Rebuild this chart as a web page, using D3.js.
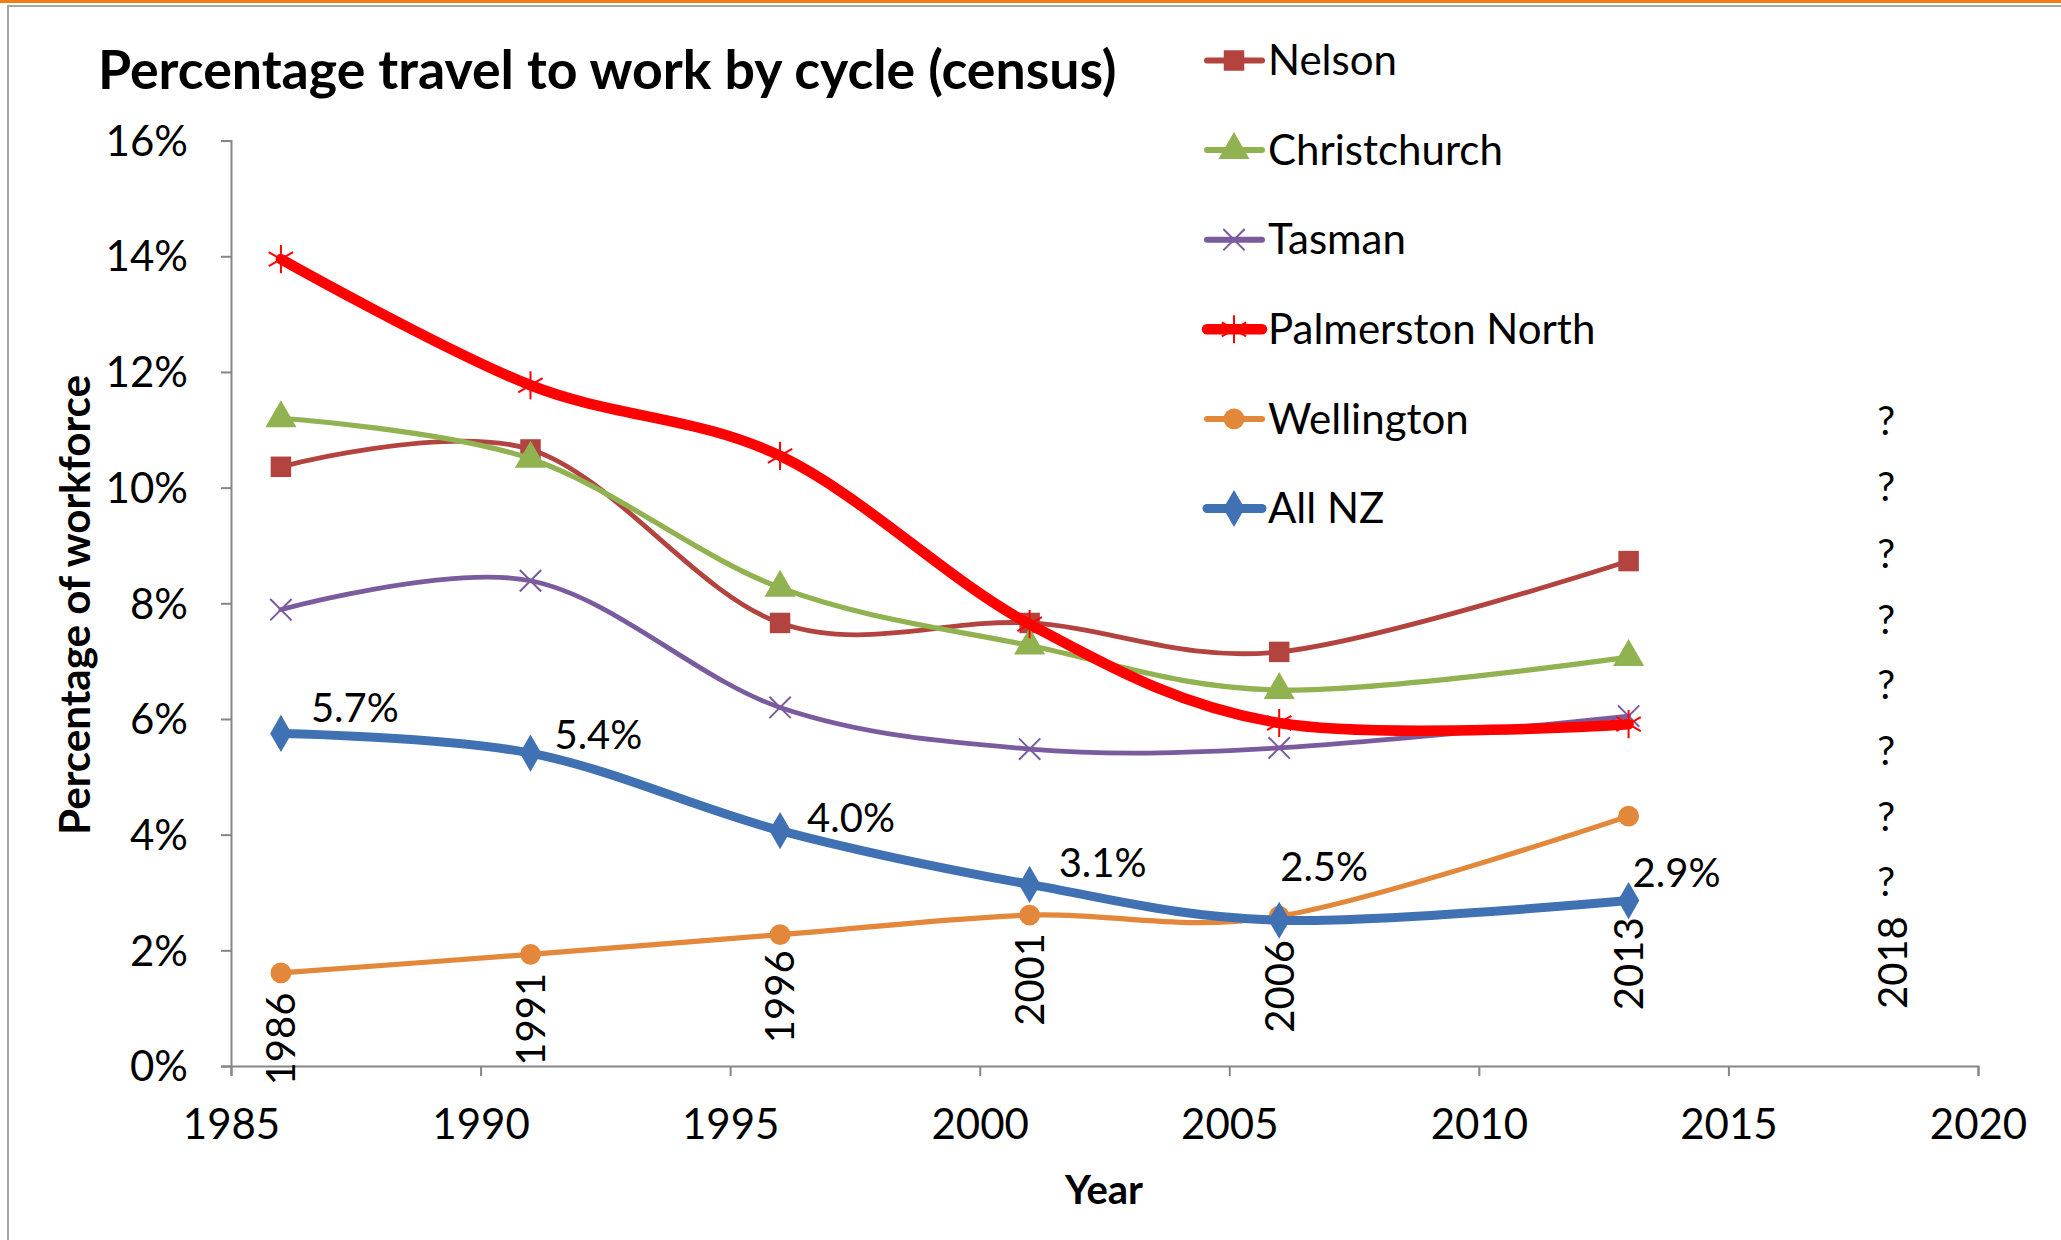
<!DOCTYPE html>
<html>
<head>
<meta charset="utf-8">
<script src="https://cdn.jsdelivr.net/npm/d3@7"></script>
<style>
  html, body { margin: 0; padding: 0; background: #fff; }
  svg text { font-family: Lato, "Open Sans", sans-serif; fill: #000; }
</style>
</head>
<body>
<div id="chart"></div>
<script>
// Data
const years = [1986, 1991, 1996, 2001, 2006, 2013];
const nelson = [10.36, 10.66, 7.66, 7.66, 7.16, 8.73];
const christchurch = [11.2, 10.5, 8.27, 7.27, 6.5, 7.07];
const tasman = [7.89, 8.39, 6.2, 5.48, 5.5, 6.05];
const palmerstonNorth = [13.95, 11.77, 10.55, 7.64, 5.93, 5.91];
const wellington = [1.61, 1.93, 2.27, 2.61, 2.59, 4.32];
const allNZ = [5.75, 5.41, 4.07, 3.14, 2.52, 2.86];
const allNZLabels = ['5.7%', '5.4%', '4.0%', '3.1%', '2.5%', '2.9%'];

// hidden series carrying the census year labels and the "?" marks
const censusYears = [1986, 1991, 1996, 2001, 2006, 2013, 2018];
const censusYearAt = [1.27, 1.61, 2.0, 2.3, 2.18, 2.57, 2.59];
const unknownAt = [11.15, 10.01, 8.85, 7.71, 6.59, 5.45, 4.31, 3.18];

const xTicks = [1985, 1990, 1995, 2000, 2005, 2010, 2015, 2020];
const yTicks = [0, 2, 4, 6, 8, 10, 12, 14, 16];

const seriesNames = ['Nelson', 'Christchurch', 'Tasman', 'Palmerston North', 'Wellington', 'All NZ'];

let width = 2061;
let height = 1240;

let series = [
    {name: 'Nelson', values: nelson, color: '#b2433f', lw: 4.8, marker: 'square'},
    {name: 'Christchurch', values: christchurch, color: '#90b250', lw: 5.2, marker: 'triangle'},
    {name: 'Tasman', values: tasman, color: '#7a5c9e', lw: 4.8, marker: 'times'},
    {name: 'Palmerston North', values: palmerstonNorth, color: '#ff0000', lw: 10.5, marker: 'asterisk'},
    {name: 'Wellington', values: wellington, color: '#e3883b', lw: 5.2, marker: 'circle'},
    {name: 'All NZ', values: allNZ, color: '#3f71b3', lw: 9, marker: 'diamond'}
];

// label nudges for the All NZ values (px: dx from point, dy baseline from point)
const labelNudge = [[30, -11], [24, -4], [27, 1], [29, -7], [1, -39], [4, -14]];

let svg = d3.select('#chart').append('svg')
    .attr('width', width)
    .attr('height', height);

// frame
svg.append('rect').attr('x', 0).attr('y', 0).attr('width', width).attr('height', 3).attr('fill', '#f07d16');
svg.append('path').attr('d', 'M8,' + height + 'V6H' + width).attr('fill', 'none').attr('stroke', '#a6a6a6').attr('stroke-width', 2);

const x = d3.scaleLinear().domain([1985, 2020]).range([231, 1978]);
const y = d3.scaleLinear().domain([0, 16]).range([1066, 140.6]);

// axes
let yAxis = svg.append('g')
    .attr('transform', 'translate(231,0)')
    .call(d3.axisLeft(y).tickValues(yTicks).tickFormat(d => d + '%').tickSize(10).tickPadding(33));
let xAxis = svg.append('g')
    .attr('transform', 'translate(0,1066)')
    .call(d3.axisBottom(x).tickValues(xTicks).tickFormat(d3.format('d')).tickSize(10));

[yAxis, xAxis].forEach(function(ax) {
    ax.select('.domain').attr('stroke', '#868686').attr('stroke-width', 2);
    ax.selectAll('.tick line').attr('stroke', '#868686').attr('stroke-width', 2);
    ax.selectAll('.tick text').style('font-size', '42px').attr('fill', '#000');
});
xAxis.selectAll('.tick text').attr('y', 58).attr('dy', '0.35em');
yAxis.selectAll('.tick text').attr('dy', '0.35em');

// lines
const line = d3.line()
    .x((d, i) => x(years[i]))
    .y(d => y(d))
    .curve(d3.curveCatmullRom.alpha(0));

function symbolFor(m) {
    if (m == 'square') return d3.symbol().type(d3.symbolSquare).size(420);
    if (m == 'triangle') return d3.symbol().type(d3.symbolTriangle).size(420);
    if (m == 'times') return d3.symbol().type(d3.symbolTimes).size(300);
    if (m == 'asterisk') return d3.symbol().type(d3.symbolAsterisk).size(560);
    if (m == 'circle') return d3.symbol().type(d3.symbolCircle).size(340);
    return d3.symbol().type(d3.symbolDiamond).size(400);
}
function isStroked(m) {
    return m == 'times' || m == 'asterisk';
}

series.forEach(function(s) {
    let g = svg.append('g');
    g.append('path')
        .attr('d', line(s.values))
        .attr('fill', 'none')
        .attr('stroke', s.color)
        .attr('stroke-width', s.lw)
        .attr('stroke-linejoin', 'round')
        .attr('stroke-linecap', 'round');
    g.selectAll('path.mk')
        .data(s.values)
        .enter()
        .append('path')
        .attr('class', 'mk')
        .attr('transform', (d, i) => 'translate(' + x(years[i]) + ',' + y(d) + ')')
        .attr('d', symbolFor(s.marker))
        .attr('fill', isStroked(s.marker) ? 'none' : s.color)
        .attr('stroke', isStroked(s.marker) ? s.color : 'none')
        .attr('stroke-width', 2);
});

// All NZ data labels
svg.append('g')
    .selectAll('text')
    .data(allNZ)
    .enter()
    .append('text')
    .attr('x', (d, i) => x(years[i]) + labelNudge[i][0])
    .attr('y', (d, i) => y(d) + labelNudge[i][1])
    .style('font-size', '40px')
    .text((d, i) => allNZLabels[i]);

// census year labels, rotated
svg.append('g')
    .selectAll('text')
    .data(censusYears)
    .enter()
    .append('text')
    .attr('transform', (d, i) => 'translate(' + (x(d) + (d == 2018 ? 14 : 0)) + ',' + y(censusYearAt[i]) + ') rotate(-90)')
    .attr('text-anchor', 'end')
    .attr('dy', '0.36em')
    .style('font-size', '40px')
    .text(d => d);

// question marks for 2018
svg.append('g')
    .selectAll('text')
    .data(unknownAt)
    .enter()
    .append('text')
    .attr('x', x(2018) + 8)
    .attr('y', d => y(d))
    .attr('dy', '0.35em')
    .attr('text-anchor', 'middle')
    .style('font-size', '40px')
    .text('?');

// legend
let legend = svg.append('g');
series.forEach(function(s, i) {
    let ly = 60.5 + i * 89.6;
    legend.append('line')
        .attr('x1', 1207).attr('x2', 1262)
        .attr('y1', ly).attr('y2', ly)
        .attr('stroke', s.color)
        .attr('stroke-width', Math.max(s.lw, 6))
        .attr('stroke-linecap', 'round');
    legend.append('path')
        .attr('transform', 'translate(1234,' + ly + ')')
        .attr('d', symbolFor(s.marker))
        .attr('fill', isStroked(s.marker) ? 'none' : s.color)
        .attr('stroke', isStroked(s.marker) ? s.color : 'none')
        .attr('stroke-width', 2);
    legend.append('text')
        .attr('x', 1268)
        .attr('y', ly)
        .attr('dy', '0.35em')
        .style('font-size', '42px')
        .text(seriesNames[i]);
});

// titles
function fitWidth(sel, target) {
    let len = sel.node().getComputedTextLength();
    let fs = parseFloat(sel.style('font-size'));
    sel.style('font-size', (fs * target / len) + 'px');
}

let title = svg.append('text')
    .attr('x', 98)
    .attr('y', 89)
    .style('font-size', '48px')
    .style('font-weight', 'bold')
    .text('Percentage travel to work by cycle (census)');
fitWidth(title, 1019);

let yTitle = svg.append('text')
    .attr('transform', 'translate(75,605) rotate(-90)')
    .attr('text-anchor', 'middle')
    .attr('dy', '0.35em')
    .style('font-size', '40px')
    .style('font-weight', 'bold')
    .text('Percentage of workforce');
fitWidth(yTitle, 460);

svg.append('text')
    .attr('x', 1104)
    .attr('y', 1190)
    .attr('dy', '0.35em')
    .attr('text-anchor', 'middle')
    .style('font-size', '40px')
    .style('font-weight', 'bold')
    .text('Year');
</script>
</body>
</html>
